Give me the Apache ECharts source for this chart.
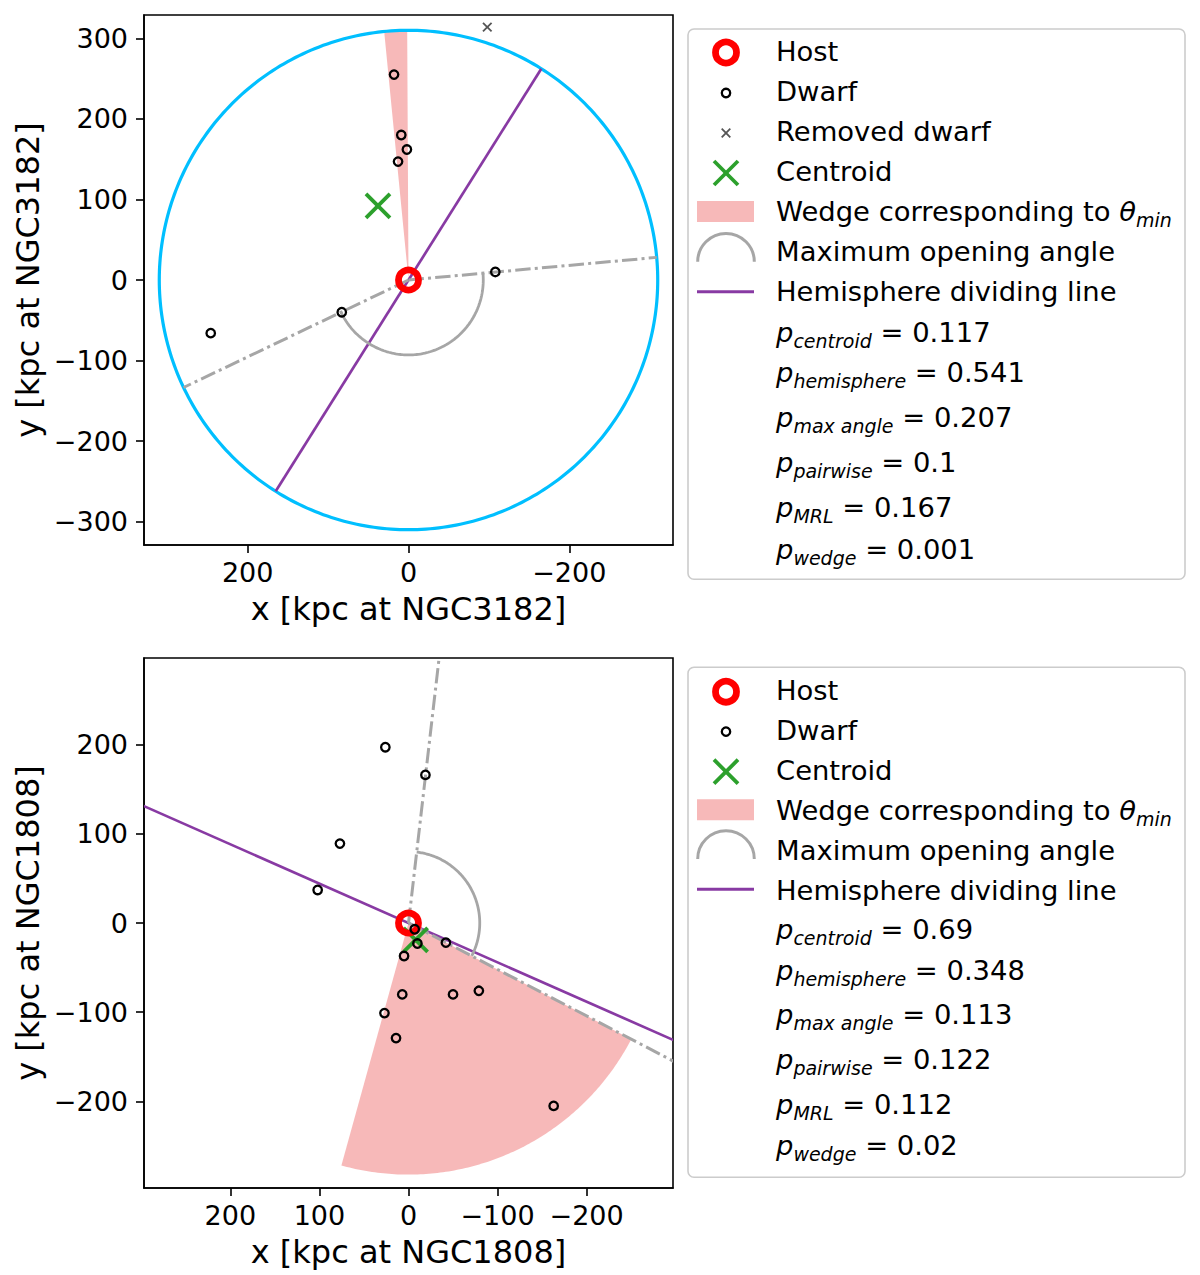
<!DOCTYPE html>
<html><head><meta charset="utf-8">
<script src="https://cdn.jsdelivr.net/npm/echarts@6/dist/echarts.min.js"></script>
<style>html,body{margin:0;padding:0;background:#fff}#c{width:1200px;height:1275px}</style>
</head><body><div id="c"></div>
<script>
// ---------------- data: top panel (NGC3182) ----------------
const topHostName = 'NGC3182';
const topHost = [[0, 0]];
const topDwarfs = [[18, 255], [9, 180], [2, 162], [13, 147], [-108, 10], [83, -40], [246, -66]];
const topRemoved = [[-98, 314]];
const topCentroid = [[38, 92]];
const topCircle = [[0, 0, 310]];                 // cx, cy, radius
const topWedge = [[0, 0, 310, 84.4, 89.7]];      // cx, cy, radius, start deg, end deg
const topArc = [[0, 0, 93, 174.8, 334.5]];       // cx, cy, radius, start deg, end deg
const topRays = [[0, 0, 310, 174.8], [0, 0, 310, 334.5]]; // cx, cy, length, angle deg
const topHemi = [[0, 0, 310, 122.2]];            // cx, cy, half length, angle deg
const topXTicks = [200, 0, -200];
const topYTicks = [-300, -200, -100, 0, 100, 200, 300];
const topPValues = ['0.117', '0.541', '0.207', '0.1', '0.167', '0.001'];

// ---------------- data: bottom panel (NGC1808) ----------------
const botHostName = 'NGC1808';
const botHost = [[0, 0]];
const botDwarfs = [[26, 197], [-19, 166], [77, 89], [102, 37], [-7, -7], [-10, -23], [-42, -22],
  [5, -37], [7, -80], [-50, -80], [-79, -76], [27, -101], [14, -129], [-163, -205]];
const botCentroid = [[-8, -19]];
const botWedge = [[0, 0, 282, 207.5, 285.5]];
const botArc = [[0, 0, 80, 96.6, 207.5]];
const botRays = [[0, 0, 430, 96.6], [0, 0, 430, 207.5]];
const botHemi = [[0, 0, 430, 23.8]];
const botXTicks = [200, 100, 0, -100, -200];
const botYTicks = [-200, -100, 0, 100, 200];
const botPValues = ['0.69', '0.348', '0.113', '0.122', '0.112', '0.02'];

const pNames = ['centroid', 'hemisphere', 'max angle', 'pairwise', 'MRL', 'wedge'];
const legendNamesTop = ['Host', 'Dwarf', 'Removed dwarf', 'Centroid', 'Wedge corresponding to ', 'Maximum opening angle', 'Hemisphere dividing line'];
const legendNamesBot = ['Host', 'Dwarf', 'Centroid', 'Wedge corresponding to ', 'Maximum opening angle', 'Hemisphere dividing line'];

// ---------------- styles ----------------
const FONT = 'DejaVu Sans';
const RED = '#ff0000', BLUE = '#00bfff', PURPLE = '#883aa3', GRAY = '#a6a6a6', GREEN = '#2ca02c';
const WEDGE = 'rgba(240,128,128,0.55)';
const D2R = Math.PI / 180;
const TICK_FS = 27, LABEL_FS = 32, LEG_FS = 27.4, SUB_FS = 19;

function arcPts(api, cx, cy, r, a0, a1, n) {
  const pts = [];
  for (let i = 0; i <= n; i++) {
    const a = (a0 + (a1 - a0) * i / n) * D2R;
    pts.push(api.coord([cx + r * Math.cos(a), cy + r * Math.sin(a)]));
  }
  return pts;
}
function renderWedge(params, api) {
  const cx = api.value(0), cy = api.value(1), r = api.value(2), a0 = api.value(3), a1 = api.value(4);
  const pts = [api.coord([cx, cy])].concat(arcPts(api, cx, cy, r, a0, a1, 120));
  return { type: 'polygon', shape: { points: pts }, style: { fill: WEDGE, stroke: 'none' } };
}
function renderCircle(params, api) {
  const pts = arcPts(api, api.value(0), api.value(1), api.value(2), 0, 360, 360);
  return { type: 'polygon', shape: { points: pts }, style: { fill: 'none', stroke: BLUE, lineWidth: 3.2 } };
}
function renderArc(params, api) {
  const pts = arcPts(api, api.value(0), api.value(1), api.value(2), api.value(3), api.value(4), 120);
  return { type: 'polyline', shape: { points: pts }, style: { fill: 'none', stroke: GRAY, lineWidth: 2.8 } };
}
function renderRay(params, api) {
  const cx = api.value(0), cy = api.value(1), r = api.value(2), a = api.value(3) * D2R;
  const p0 = api.coord([cx, cy]), p1 = api.coord([cx + r * Math.cos(a), cy + r * Math.sin(a)]);
  return { type: 'line', shape: { x1: p0[0], y1: p0[1], x2: p1[0], y2: p1[1] },
    style: { stroke: GRAY, lineWidth: 3, lineDash: [15.4, 4.2, 3, 4.2], lineCap: 'butt' } };
}
function renderHemi(params, api) {
  const cx = api.value(0), cy = api.value(1), r = api.value(2), a = api.value(3) * D2R;
  const p0 = api.coord([cx - r * Math.cos(a), cy - r * Math.sin(a)]);
  const p1 = api.coord([cx + r * Math.cos(a), cy + r * Math.sin(a)]);
  return { type: 'line', shape: { x1: p0[0], y1: p0[1], x2: p1[0], y2: p1[1] },
    style: { stroke: PURPLE, lineWidth: 2.7 } };
}
function xRenderer(color, half, lw) {
  return function (params, api) {
    const p = api.coord([api.value(0), api.value(1)]);
    return { type: 'group', children: [
      { type: 'line', shape: { x1: p[0] - half, y1: p[1] - half, x2: p[0] + half, y2: p[1] + half }, style: { stroke: color, lineWidth: lw } },
      { type: 'line', shape: { x1: p[0] - half, y1: p[1] + half, x2: p[0] + half, y2: p[1] - half }, style: { stroke: color, lineWidth: lw } }
    ] };
  };
}
const fmt = v => String(v).replace('-', '\u2212');

function makeXAxis(gi, range, ticks, name) {
  return {
    gridIndex: gi, type: 'value', min: range[0], max: range[1], inverse: true,
    axisLine: { show: true, onZero: false, lineStyle: { color: '#000', width: 1.6 } },
    axisTick: { show: true, inside: false, length: 8, customValues: ticks, lineStyle: { color: '#000', width: 1.6 } },
    axisLabel: { show: true, customValues: ticks, formatter: fmt, margin: 14, color: '#000', fontSize: TICK_FS, fontFamily: FONT },
    splitLine: { show: false },
    name: name, nameLocation: 'middle', nameGap: 48,
    nameTextStyle: { color: '#000', fontSize: LABEL_FS, fontFamily: FONT }
  };
}
function makeYAxis(gi, range, ticks, name) {
  return {
    gridIndex: gi, type: 'value', min: range[0], max: range[1],
    axisLine: { show: true, onZero: false, lineStyle: { color: '#000', width: 1.6 } },
    axisTick: { show: true, inside: false, length: 8, customValues: ticks, lineStyle: { color: '#000', width: 1.6 } },
    axisLabel: { show: true, customValues: ticks, formatter: fmt, margin: 16, color: '#000', fontSize: TICK_FS, fontFamily: FONT },
    splitLine: { show: false },
    name: name, nameLocation: 'middle', nameGap: 100, nameRotate: 90,
    nameTextStyle: { color: '#000', fontSize: LABEL_FS, fontFamily: FONT }
  };
}
function panelSeries(i, d) {
  const base = { xAxisIndex: i, yAxisIndex: i, silent: true, animation: false };
  const s = [];
  s.push(Object.assign({ type: 'custom', data: d.wedge, renderItem: renderWedge, clip: true }, base));
  s.push(Object.assign({ type: 'scatter', data: d.host, symbol: 'circle', symbolSize: 20,
    itemStyle: { color: 'rgba(0,0,0,0)', borderColor: RED, borderWidth: 6.8, opacity: 1 } }, base));
  if (d.circle) s.push(Object.assign({ type: 'custom', data: d.circle, renderItem: renderCircle, clip: true }, base));
  s.push(Object.assign({ type: 'custom', data: d.hemi, renderItem: renderHemi, clip: true }, base));
  s.push(Object.assign({ type: 'custom', data: d.rays, renderItem: renderRay, clip: true }, base));
  s.push(Object.assign({ type: 'custom', data: d.arc, renderItem: renderArc, clip: true }, base));
  s.push(Object.assign({ type: 'scatter', data: d.dwarfs, symbol: 'circle', symbolSize: 8.5,
    itemStyle: { color: 'rgba(0,0,0,0)', borderColor: '#000', borderWidth: 2.3, opacity: 1 } }, base));
  if (d.removed) s.push(Object.assign({ type: 'custom', data: d.removed, renderItem: xRenderer('#555555', 4.3, 1.8), clip: true }, base));
  s.push(Object.assign({ type: 'custom', data: d.centroid, renderItem: xRenderer(GREEN, 12, 3.8), clip: true }, base));
  return s;
}

// ---------------- legend (graphic) ----------------
const richMath = {
  n: { fontSize: LEG_FS, fontFamily: FONT, fill: '#000', lineHeight: 36, verticalAlign: 'middle' },
  i: { fontSize: LEG_FS, fontFamily: FONT, fontStyle: 'italic', fill: '#000', lineHeight: 36, verticalAlign: 'middle' },
  s: { fontSize: SUB_FS, fontFamily: FONT, fontStyle: 'italic', fill: '#000', lineHeight: 23, verticalAlign: 'bottom' }
};
function legText(x, y, txt) {
  return { type: 'text', x: x, y: y, silent: true,
    style: { text: txt, fontSize: LEG_FS, fontFamily: FONT, fill: '#000', verticalAlign: 'middle', align: 'left' } };
}
function richText(x, y, txt) {
  return { type: 'text', x: x, y: y, silent: true,
    style: { text: txt, rich: richMath, verticalAlign: 'middle', align: 'left', fontSize: LEG_FS, fontFamily: FONT } };
}
function xMark(cx, cy, half, color, lw) {
  return [
    { type: 'line', silent: true, shape: { x1: cx - half, y1: cy - half, x2: cx + half, y2: cy + half }, style: { stroke: color, lineWidth: lw } },
    { type: 'line', silent: true, shape: { x1: cx - half, y1: cy + half, x2: cx + half, y2: cy - half }, style: { stroke: color, lineWidth: lw } }
  ];
}
function buildLegend(L, names, pVals) {
  const hx = 726, tx = 776;
  const g = [];
  g.push({ type: 'rect', silent: true, shape: { x: 688, y: L.box[0], width: 497, height: L.box[1], r: 6 },
    style: { fill: 'rgba(255,255,255,0.8)', stroke: '#cccccc', lineWidth: 1.6 } });
  let k = 0;
  g.push({ type: 'circle', silent: true, shape: { cx: hx, cy: L.hostH, r: 10.5 }, style: { fill: 'none', stroke: RED, lineWidth: 6.8 } });
  g.push(legText(tx, L.rows[k], names[k])); k++;
  g.push({ type: 'circle', silent: true, shape: { cx: hx, cy: L.dwarfH, r: 4.2 }, style: { fill: 'none', stroke: '#000', lineWidth: 2.3 } });
  g.push(legText(tx, L.rows[k], names[k])); k++;
  if (L.removedH) {
    g.push.apply(g, xMark(hx, L.removedH, 4.3, '#555555', 1.8));
    g.push(legText(tx, L.rows[k], names[k])); k++;
  }
  g.push.apply(g, xMark(hx, L.centroidH, 12, GREEN, 3.8));
  g.push(legText(tx, L.rows[k], names[k])); k++;
  g.push({ type: 'rect', silent: true, shape: { x: 697, y: L.wedgeH, width: 57, height: 21 }, style: { fill: WEDGE } });
  g.push(richText(tx, L.rows[k], '{n|' + names[k] + '}{i|θ}{s|min}')); k++;
  g.push({ type: 'arc', silent: true, shape: { cx: hx, cy: L.arcH, r: 28.3, startAngle: Math.PI, endAngle: 2 * Math.PI, clockwise: true },
    style: { fill: 'none', stroke: GRAY, lineWidth: 3 } });
  g.push(legText(tx, L.rows[k], names[k])); k++;
  g.push({ type: 'line', silent: true, shape: { x1: 697, y1: L.hemiH, x2: 754, y2: L.hemiH }, style: { stroke: PURPLE, lineWidth: 3 } });
  g.push(legText(tx, L.rows[k], names[k])); k++;
  for (let j = 0; j < pNames.length; j++) {
    g.push(richText(tx, L.p[j], '{i|p}{s|' + pNames[j] + '}{n| = ' + pVals[j] + '}'));
  }
  return g;
}
const legTop = { box: [29, 550.3], hostH: 52.5, dwarfH: 93, removedH: 133, centroidH: 173, wedgeH: 201, arcH: 261.7, hemiH: 291.7,
  rows: [51, 91, 131, 171, 211.7, 251.7, 291.7], p: [332.5, 372.8, 417.8, 462.8, 507.8, 549.5] };
const legBot = { box: [667.3, 510], hostH: 691.7, dwarfH: 731.7, removedH: null, centroidH: 771.7, wedgeH: 799.3, arcH: 859, hemiH: 889.3,
  rows: [690, 730, 770, 810, 850.7, 890], p: [929.7, 970, 1014.7, 1059.7, 1104.7, 1145] };

const chart = echarts.init(document.getElementById('c'), null, { renderer: 'svg', width: 1200, height: 1275 });
chart.setOption({
  backgroundColor: '#ffffff',
  animation: false,
  grid: [
    { left: 144, top: 15, width: 529, height: 530, show: true, borderColor: '#000', borderWidth: 1.6, backgroundColor: 'transparent', containLabel: false, outerBoundsMode: 'none' },
    { left: 144, top: 658, width: 529, height: 530, show: true, borderColor: '#000', borderWidth: 1.6, backgroundColor: 'transparent', containLabel: false, outerBoundsMode: 'none' }
  ],
  xAxis: [
    makeXAxis(0, [-329, 329], topXTicks, 'x [kpc at ' + topHostName + ']'),
    makeXAxis(1, [-297, 297], botXTicks, 'x [kpc at ' + botHostName + ']')
  ],
  yAxis: [
    makeYAxis(0, [-329, 329], topYTicks, 'y [kpc at ' + topHostName + ']'),
    makeYAxis(1, [-297, 297], botYTicks, 'y [kpc at ' + botHostName + ']')
  ],
  series: panelSeries(0, { wedge: topWedge, host: topHost, circle: topCircle, hemi: topHemi, rays: topRays, arc: topArc,
      dwarfs: topDwarfs, removed: topRemoved, centroid: topCentroid })
    .concat(panelSeries(1, { wedge: botWedge, host: botHost, circle: null, hemi: botHemi, rays: botRays, arc: botArc,
      dwarfs: botDwarfs, removed: null, centroid: botCentroid })),
  graphic: buildLegend(legTop, legendNamesTop, topPValues).concat(buildLegend(legBot, legendNamesBot, botPValues))
});
</script></body></html>
